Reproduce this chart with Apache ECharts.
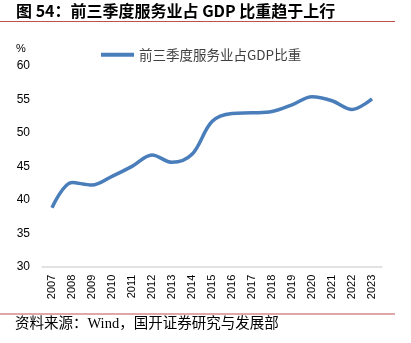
<!DOCTYPE html>
<html>
<head>
<meta charset="utf-8">
<script src="https://cdn.jsdelivr.net/npm/echarts@6/dist/echarts.min.js"></script>
<style>html,body{margin:0;padding:0;background:#fff}#c{width:411px;height:343px}</style>
</head>
<body>
<div id="c"></div>
<script>
var categories = ['2007','2008','2009','2010','2011','2012','2013','2014','2015','2016','2017','2018','2019','2020','2021','2022','2023'];
var serviceShare = [38.8, 42.6, 42.2, 43.5, 45.0, 46.7, 45.6, 46.8, 51.7, 52.9, 53.0, 53.2, 54.2, 55.4, 54.8, 53.5, 55.1];
var seriesName = '前三季度服务业占GDP比重';
var titleText = '图 54：前三季度服务业占 GDP 比重趋于上行';
var sourceText = '资料来源：Wind，国开证券研究与发展部';
var unitText = '%';

var chart = echarts.init(document.getElementById('c'));
var lastIdx = serviceShare.length - 1;
chart.setOption({
  animation: false,
  backgroundColor: '#fff',
  grid: {left: 42, right: 29, top: 66, bottom: 76.3, containLabel: false},
  legend: {
    data: [seriesName],
    left: 96, top: 43,
    itemWidth: 33, itemHeight: 4, itemGap: 2,
    icon: 'rect',
    textStyle: {fontFamily: 'Noto Sans CJK SC', fontSize: 13.5, color: '#404040', padding: [0,0,0,0]}
  },
  xAxis: {
    type: 'category',
    data: categories,
    boundaryGap: true,
    axisLine: {lineStyle: {color: '#d9d9d9', width: 1.5}},
    axisTick: {show: false},
    axisLabel: {rotate: 90, fontFamily: 'Liberation Sans', fontSize: 11, color: '#000', margin: 8, interval: 0}
  },
  yAxis: {
    type: 'value',
    min: 30, max: 60, interval: 5,
    axisLine: {show: false},
    axisTick: {show: false},
    splitLine: {show: false},
    axisLabel: {fontFamily: 'Liberation Sans', fontSize: 12, color: '#000', margin: 12}
  },
  series: [{
    name: seriesName,
    type: 'line',
    data: serviceShare.map(function (v, i) {
      return i === lastIdx ? {value: v, label: {show: true, position: 'top', distance: 6, formatter: '{c}', fontFamily: 'Liberation Sans', fontSize: 12, color: '#000'}} : v;
    }),
    smooth: 0.35,
    symbol: 'none',
    lineStyle: {color: '#4a7ebb', width: 3.5},
    itemStyle: {color: '#4a7ebb'}
  }],
  graphic: [
    {type: 'text', left: 16, top: 3, style: {text: titleText, font: 'bold 16px "Noto Sans CJK SC"', fill: '#000'}},
    {type: 'line', shape: {x1: 0, y1: 21.5, x2: 395, y2: 21.5}, style: {stroke: '#c0504d', lineWidth: 1}},
    {type: 'text', left: 16, top: 43, style: {text: unitText, font: '11px "Liberation Sans"', fill: '#000'}},
    {type: 'line', shape: {x1: 0, y1: 314, x2: 395, y2: 314}, style: {stroke: '#c0504d', lineWidth: 1}},
    {type: 'text', left: 15, top: 317, style: {text: sourceText, font: '14.5px "Liberation Serif", "Noto Sans CJK SC"', fill: '#000'}}
  ]
});
</script>
</body>
</html>
